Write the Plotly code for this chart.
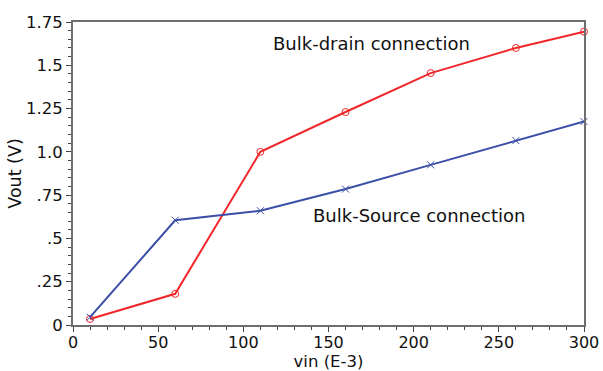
import plotly.graph_objects as go

vin = [10, 60, 110, 160, 210, 260, 300]
bulk_drain = [0.035, 0.18, 1.0, 1.23, 1.455, 1.60, 1.694]
bulk_source = [0.045, 0.605, 0.66, 0.785, 0.925, 1.065, 1.175]

x_ticks = [0, 50, 100, 150, 200, 250, 300]
x_ticktext = ["0", "50", "100", "150", "200", "250", "300"]
y_ticks = [0, 0.25, 0.5, 0.75, 1.0, 1.25, 1.5, 1.75]
y_ticktext = ["0", ".25", ".5", ".75", "1.0", "1.25", "1.5", "1.75"]

font = "DejaVu Sans, Verdana, sans-serif"

fig = go.Figure()
fig.add_trace(go.Scatter(
    x=vin, y=bulk_drain, mode="lines+markers", name="Bulk-drain connection",
    line=dict(color="#f0262a", width=2),
    marker=dict(symbol="circle-open", size=7, color="#f0262a", line=dict(width=1)),
    cliponaxis=False,
))
fig.add_trace(go.Scatter(
    x=vin, y=bulk_source, mode="lines+markers", name="Bulk-Source connection",
    line=dict(color="#3b4fa8", width=2),
    marker=dict(symbol="x-thin", size=7, color="#3b4fa8", line=dict(width=1, color="#3b4fa8")),
    cliponaxis=False,
))

fig.add_annotation(x=175.3, y=1.623, text="Bulk-drain connection", showarrow=False,
                   font=dict(family=font, size=18, color="#111"))
fig.add_annotation(x=203.2, y=0.631, text="Bulk-Source connection", showarrow=False,
                   font=dict(family=font, size=18, color="#111"))

axis_common = dict(
    showgrid=False, zeroline=False, showline=True, linecolor="#6e6e6e", linewidth=2,
    mirror=True, ticks="outside", ticklen=5, tickwidth=1, tickcolor="#444",
    automargin=False,
)

fig.update_xaxes(
    range=[0, 300], tickvals=x_ticks, ticktext=x_ticktext, ticklabelstandoff=-3,
    tickfont=dict(family=font, size=16, color="#111"),
    title=dict(text="vin (E-3)", font=dict(family=font, size=16.5, color="#111"), standoff=6),
    minor=dict(dtick=10, ticks="outside", ticklen=3, tickcolor="#444"),
    **axis_common,
)
fig.update_yaxes(
    range=[0, 1.75], tickvals=y_ticks, ticktext=y_ticktext,
    tickfont=dict(family=font, size=16.5, color="#111"),
    title=dict(text="Vout (V)", font=dict(family=font, size=17.5, color="#111"), standoff=0),
    minor=dict(dtick=0.05, ticks="outside", ticklen=3, tickcolor="#444"),
    **axis_common,
)

fig.update_layout(
    width=603, height=371,
    margin=dict(l=73, r=19, t=22, b=46),
    plot_bgcolor="white", paper_bgcolor="white",
    showlegend=False,
)

fig.write_html("out.html", config={"displayModeBar": False},
               post_script="document.body.style.margin='0';document.body.style.overflow='hidden';")
